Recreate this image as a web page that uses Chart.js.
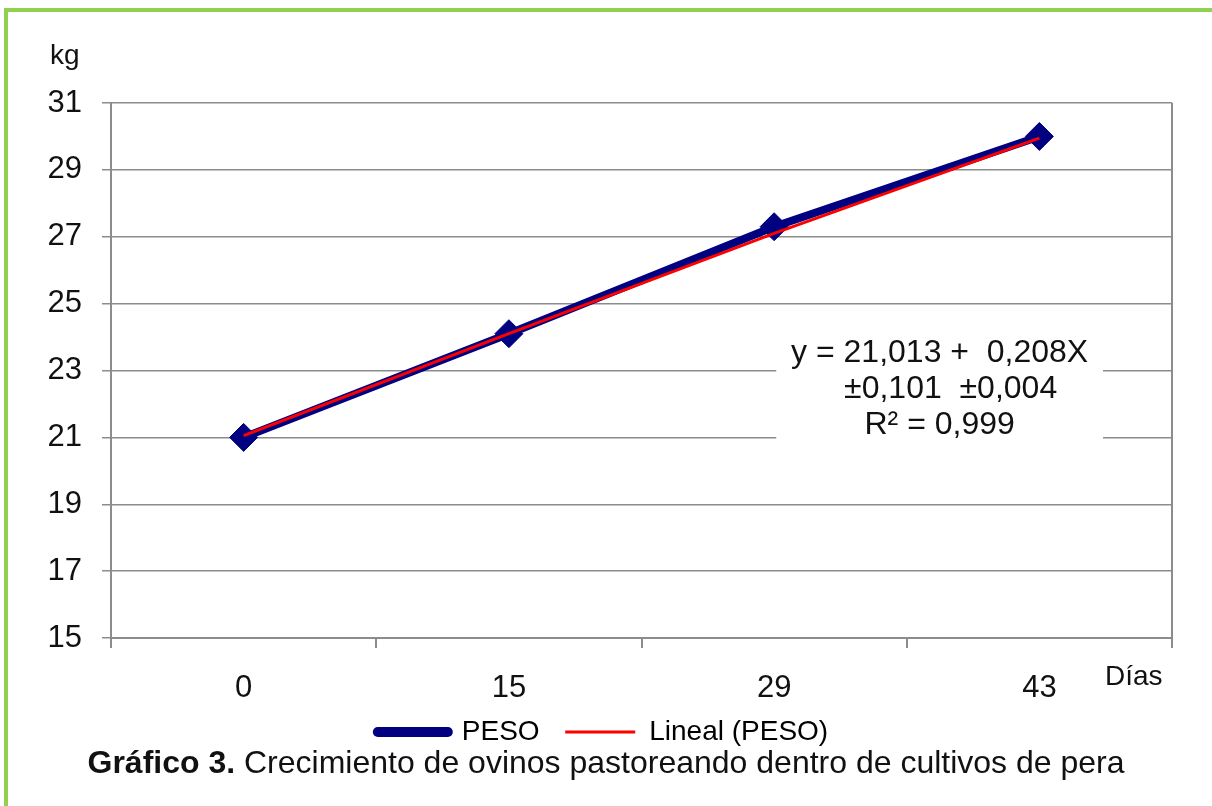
<!DOCTYPE html>
<html>
<head>
<meta charset="utf-8">
<script src="https://cdn.jsdelivr.net/npm/chart.js@4"></script>
<style>
  body { margin: 0; background: #fff; overflow: hidden; font-family: Arial, "Liberation Sans", sans-serif; }
  #frame { position: absolute; left: 4px; top: 8px; width: 1400px; height: 1000px; border: 4px solid #92d050; box-sizing: border-box; }
  #wrap { position: absolute; left: 0; top: 0; width: 1212px; height: 806px; }
  #caption { position: absolute; left: 0; width: 1212px; top: 744px; text-align: center; font-size: 32px; color: #111; }
</style>
</head>
<body>
<div id="frame"></div>
<div id="wrap"><canvas id="myChart"></canvas></div>
<div id="caption"><b>Gráfico 3.</b> Crecimiento de ovinos pastoreando dentro de cultivos de pera</div>
<script>
const ctx = document.getElementById('myChart');

const dias = ['0', '15', '29', '43'];
const peso = [21.0, 24.1, 27.3, 30.0];
const lineal = [21.05, 24.1, 27.1, 29.95];
const yMin = 15;
const yMax = 31;
const yStep = 2;
const ecuacion = ['y = 21,013 +  0,208X', '±0,101  ±0,004', 'R² = 0,999'];

const font = 'Arial, "Liberation Sans", sans-serif';

// frame, equation box and axis titles
const extras = {
  id: 'extras',
  beforeDatasetsDraw(chart) {
    const c = chart.ctx, a = chart.chartArea;
    c.save();
    c.strokeStyle = '#8c8c8c';
    c.lineWidth = 2;
    c.beginPath();
    c.moveTo(a.right, a.top);
    c.lineTo(a.right, a.bottom);
    c.stroke();
    // white box behind the equation
    const bx = a.left + (a.right - a.left) * 0.627;
    const bw = (a.right - a.left) * 0.308;
    const by = a.top + (a.bottom - a.top) * 0.42;
    const bh = (a.bottom - a.top) * 0.23;
    c.fillStyle = '#fff';
    c.fillRect(bx, by, bw, bh);
    c.fillStyle = '#111';
    c.font = '32px ' + font;
    c.textAlign = 'center';
    c.textBaseline = 'middle';
    const cx = bx + bw / 2;
    ecuacion.forEach((t, i) => c.fillText(t, cx + (i === 1 ? 11 : 0), by + 25 + i * 36));
    // axis titles
    c.font = '28px ' + font;
    c.textAlign = 'left';
    c.fillText('kg', a.left - 61, a.top - 47);
    c.fillText('Días', a.right - 67, a.bottom + 39);
    c.restore();
  }
};

new Chart(ctx, {
  type: 'line',
  data: {
    labels: dias,
    datasets: [{
      label: 'Lineal (PESO)',
      data: lineal,
      borderColor: '#ff0000',
      borderWidth: 3,
      pointRadius: 0,
      order: 1
    },
    {
      label: 'PESO',
      data: peso,
      borderColor: '#000080',
      backgroundColor: '#000080',
      borderWidth: 8,
      pointStyle: 'rectRot',
      pointRadius: 14,
      pointBorderWidth: 1,
      order: 2
    }]
  },
  options: {
    responsive: true,
    maintainAspectRatio: false,
    animation: false,
    layout: { padding: { top: 103, right: 40, bottom: 50, left: 34 } },
    plugins: {
      tooltip: { enabled: false },
      legend: {
        position: 'bottom',
        labels: {
          usePointStyle: true,
          pointStyleWidth: 70,
          padding: 10,
          color: '#111',
          font: { family: font, size: 28 },
          generateLabels(chart) {
            return [1, 0].map(i => {
              const ds = chart.data.datasets[i];
              return {
                text: i === 1 ? ds.label + '  ' : ds.label,
                pointStyle: 'line',
                strokeStyle: ds.borderColor,
                fillStyle: ds.borderColor,
                lineWidth: i === 1 ? 10 : 3,
                lineCap: i === 1 ? 'round' : 'butt',
                datasetIndex: i
              };
            });
          }
        }
      }
    },
    scales: {
      x: {
        offset: true,
        afterFit(scale) { scale.height = 70; },
        grid: { offset: true, drawOnChartArea: false, tickLength: 10, color: '#8c8c8c', lineWidth: 2 },
        border: { color: '#8c8c8c', width: 2 },
        ticks: { color: '#111', font: { family: font, size: 31 }, padding: 22 }
      },
      y: {
        min: yMin,
        max: yMax,
        afterFit(scale) { scale.width = 77; },
        grid: { color: '#8c8c8c', lineWidth: 1.5, tickLength: 9 },
        border: { color: '#8c8c8c', width: 2 },
        ticks: { stepSize: yStep, color: '#111', font: { family: font, size: 31 }, padding: 20 }
      }
    }
  },
  plugins: [extras]
});
</script>
</body>
</html>
